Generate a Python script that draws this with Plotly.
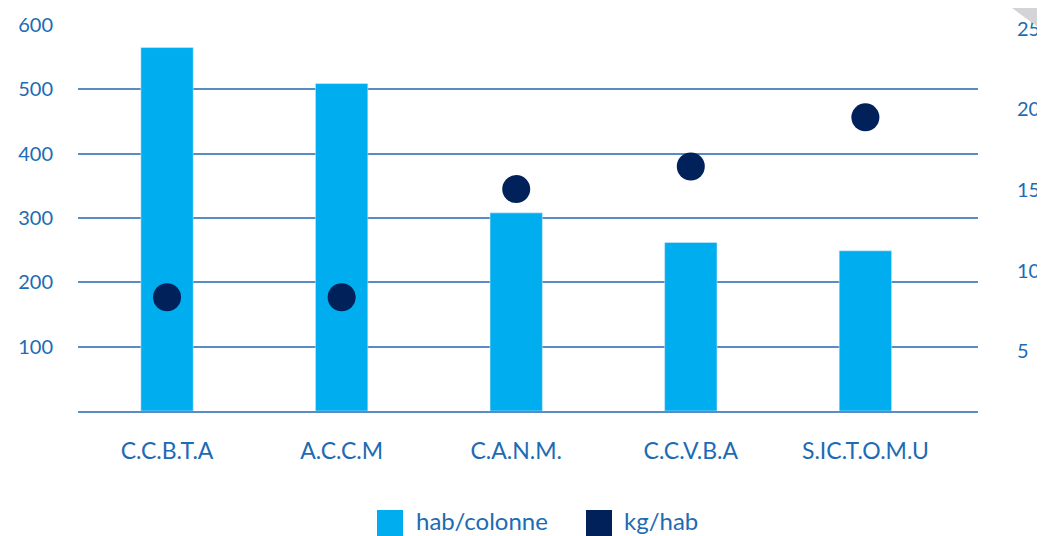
import plotly.graph_objects as go

categories = ["C.C.B.T.A", "A.C.C.M", "C.A.N.M.", "C.C.V.B.A", "S.IC.T.O.M.U"]
hab_colonne = [565, 509, 308, 262, 249]
kg_hab = [8.35, 8.35, 15.05, 16.45, 19.5]
left_ticks = [100, 200, 300, 400, 500, 600]
right_ticks = [5, 10, 15, 20, 25]
legend_labels = ["hab/colonne", "kg/hab"]

BAR = "#00AEEF"
DOT = "#00215A"
TXT = "#1C6BB4"
GRID = "#5B8BC4"
FONT = "Lato"

# the page body has an 8px margin; the figure is sized/offset to compensate
OFF = 8

fig = go.Figure()
fig.add_trace(go.Bar(x=categories, y=hab_colonne, width=0.30, marker_color=BAR,
                     name=legend_labels[0], showlegend=False))
fig.add_trace(go.Scatter(x=categories, y=kg_hab, mode="markers", yaxis="y2",
                         marker=dict(size=28, color=DOT), name=legend_labels[1],
                         showlegend=False))

fig.update_layout(
    width=1045 - OFF, height=536 - OFF,
    margin=dict(l=78 - OFF, r=67, t=25 - OFF, b=125, autoexpand=False),
    paper_bgcolor="white", plot_bgcolor="white",
    font=dict(family=FONT, color=TXT),
    xaxis=dict(range=[-0.51, 4.645], showgrid=False, showline=True, linecolor=GRID,
               linewidth=1.5, ticks="outside", ticklen=19, tickcolor="rgba(0,0,0,0)",
               automargin=False,
               tickfont=dict(size=23, family=FONT, color=TXT)),
    yaxis=dict(range=[0, 600], tickvals=left_ticks, showgrid=True, gridcolor=GRID,
               gridwidth=1.5, zeroline=False, ticks="outside", ticklen=20,
               automargin=False,
               tickcolor="rgba(0,0,0,0)", tickfont=dict(size=20, color=TXT)),
    yaxis2=dict(range=[1.3, 25.22], tickvals=right_ticks, overlaying="y", side="right",
                showgrid=False, zeroline=False, ticks="outside", ticklen=34,
                automargin=False,
                tickcolor="rgba(0,0,0,0)", tickfont=dict(size=20, color=TXT)),
    showlegend=False,
)

# manual legend (squares + text); pixel positions are window pixels
def px_to_paper_x(px):
    return (px - 78) / 900.0

def px_to_paper_y(py):
    return (411 - py) / 386.0

legend_items = [(377, BAR, legend_labels[0], 414), (586, DOT, legend_labels[1], 622)]
for sx, col, label, tx in legend_items:
    fig.add_shape(type="rect", xref="paper", yref="paper",
                  x0=px_to_paper_x(sx), x1=px_to_paper_x(sx + 26),
                  y0=px_to_paper_y(536), y1=px_to_paper_y(510),
                  fillcolor=col, line=dict(width=0))
    fig.add_annotation(xref="paper", yref="paper", x=px_to_paper_x(tx),
                       y=px_to_paper_y(520), text=label, showarrow=False,
                       xanchor="left", yanchor="middle",
                       font=dict(size=24, color=TXT, family=FONT))

# page-corner decoration
fig.add_shape(type="path", xref="paper", yref="paper",
              path="M {} {} L {} {} L {} {} Z".format(
                  px_to_paper_x(1012), px_to_paper_y(8),
                  px_to_paper_x(1045), px_to_paper_y(8),
                  px_to_paper_x(1045), px_to_paper_y(32)),
              fillcolor="#D3D3D8", line=dict(width=0), layer="above")

fig.write_html("out.html")
